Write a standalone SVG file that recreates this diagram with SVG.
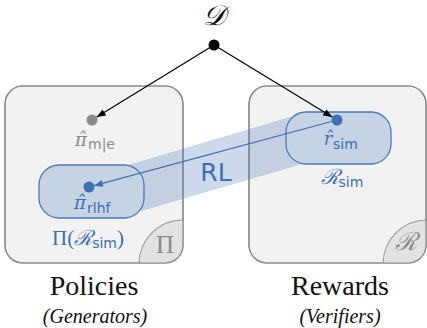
<svg xmlns="http://www.w3.org/2000/svg" width="427" height="328" viewBox="0 0 427 328">
<style>
.box{fill:#f2f2f2;stroke:#8c8c8c;stroke-width:1.2}
.corner{fill:#e2e2e2;stroke:#9a9a9a;stroke-width:1.1}
.brect{fill:#c5d3e5;stroke:#4a78b8;stroke-width:1.3}
.band{fill:#4a78b8;fill-opacity:0.27}
.math{font-family:"DejaVu Serif","Liberation Serif",serif;font-style:italic}
.sub{font-family:"DejaVu Sans","Liberation Sans",sans-serif}
.gray{fill:#8a8a8a}
.blue{fill:#3f6fb2}
.cap{font-family:"Liberation Serif",serif;fill:#111;text-anchor:middle}
</style>
<defs>
<marker id="ahk" markerUnits="userSpaceOnUse" markerWidth="10" markerHeight="8" refX="9" refY="3.5" orient="auto"><path d="M0,0 L9,3.5 L0,7 z" fill="#000"/></marker>
<marker id="ahb" markerUnits="userSpaceOnUse" markerWidth="10" markerHeight="8" refX="9" refY="3.5" orient="auto"><path d="M0,0 L9,3.5 L0,7 z" fill="#3f6fb2"/></marker>
<clipPath id="clipL"><rect x="5" y="86" width="178" height="177" rx="18"/></clipPath>
<clipPath id="clipR"><rect x="249" y="86" width="177" height="177" rx="18"/></clipPath>
</defs>

<g id="policies">
<rect class="box" x="5" y="86" width="178" height="177" rx="18"/>
<circle class="corner" cx="183" cy="264" r="44" clip-path="url(#clipL)"/>
<rect x="5" y="86" width="178" height="177" rx="18" fill="none" stroke="#8c8c8c" stroke-width="1.2"/>
<text x="165" y="253" font-family="Liberation Serif,serif" font-size="25" fill="#8a8a8a" text-anchor="middle">Π</text>
<text class="cap" x="94" y="295" font-size="28">Policies</text>
<text class="cap" x="95" y="323" font-size="20" font-style="italic">(Generators)</text>
</g>

<g id="rewards">
<rect class="box" x="249" y="86" width="177" height="177" rx="18"/>
<circle class="corner" cx="427" cy="264" r="44" clip-path="url(#clipR)"/>
<rect x="249" y="86" width="177" height="177" rx="18" fill="none" stroke="#8c8c8c" stroke-width="1.2"/>
<text x="406" y="250" class="math gray" font-size="25" text-anchor="middle">ℛ</text>
<text class="cap" x="340" y="295" font-size="28">Rewards</text>
<text class="cap" x="340" y="323" font-size="20" font-style="italic">(Verifiers)</text>
</g>

<g id="band">
<polygon class="band" points="118,168 300,114 316,160 128,215"/>
<text x="216" y="181" class="sub blue" font-size="25" text-anchor="middle">RL</text>
</g>

<g id="pi-rlhf-set">
<rect class="brect" x="39" y="165" width="105" height="53" rx="20"/>
<text x="88" y="245" class="blue" font-size="21" text-anchor="middle"><tspan font-family="Liberation Serif,serif">Π(</tspan><tspan class="math">ℛ</tspan><tspan class="sub" font-size="14" dy="3">sim</tspan><tspan font-family="Liberation Serif,serif" dy="-3">)</tspan></text>
</g>

<g id="r-sim-set">
<rect class="brect" x="286" y="112" width="105" height="52" rx="20"/>
<text x="342" y="184" class="blue" font-size="21" text-anchor="middle"><tspan class="math">ℛ</tspan><tspan class="sub" font-size="14" dy="3">sim</tspan></text>
</g>

<g id="D">
<text x="214" y="25" class="math" font-size="28" text-anchor="middle" fill="#000">𝒟</text>
<circle cx="214" cy="45" r="5.5" fill="#000"/>
</g>

<g id="pi-mle">
<circle cx="92" cy="120" r="5.5" fill="#8a8a8a"/>
<text x="81" y="146" class="math gray" font-size="18" text-anchor="middle">π̂</text>
<text x="88" y="149" class="sub gray" font-size="14">m|e</text>
</g>

<g id="pi-rlhf">
<circle cx="89" cy="187" r="5.5" fill="#3f6fb2"/>
<text x="80" y="209" class="math blue" font-size="18" text-anchor="middle">π̂</text>
<text x="87" y="213" class="sub blue" font-size="14">rlhf</text>
</g>

<g id="r-sim">
<circle cx="337" cy="120" r="5.5" fill="#3f6fb2"/>
<text x="328" y="145" class="math blue" font-size="18" text-anchor="middle">r̂</text>
<text x="333" y="149" class="sub blue" font-size="14">sim</text>
</g>

<g id="connectors">
<line x1="214" y1="45" x2="96.7" y2="117.1" stroke="#000" stroke-width="1.2" marker-end="url(#ahk)"/>
<line x1="214" y1="45" x2="332.3" y2="117.1" stroke="#000" stroke-width="1.2" marker-end="url(#ahk)"/>
<line x1="337" y1="120" x2="94" y2="185.7" stroke="#3f6fb2" stroke-width="1.2" marker-end="url(#ahb)"/>
</g>
</svg>
